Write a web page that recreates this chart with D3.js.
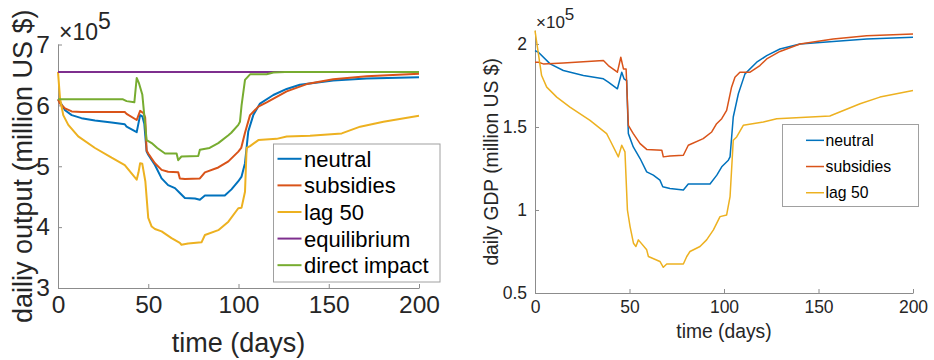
<!DOCTYPE html>
<html lang="en">
<head>
<meta charset="utf-8">
<title>Daily output and GDP</title>
<script src="https://d3js.org/d3.v7.min.js"></script>
<style>
  body { margin: 0; background: #fff; }
  svg { font-family: "Liberation Sans", Arial, Helvetica, sans-serif; }
  .axis .domain, .axis line { stroke: #8c8c8c; stroke-width: 1; }
  .axis text { fill: #262626; }
  .series { fill: none; stroke-linejoin: round; }
</style>
</head>
<body>
<svg id="chart" width="934" height="360"></svg>
<script>
// values; output in units of 1e5 million US $
const names = ["neutral", "subsidies", "lag 50", "equilibrium", "direct impact"];
const colors = ["#0072BD", "#D95319", "#EDB120", "#7E2F8E", "#77AC30"];

const outNeutral = [[0,6.10],[1.1,6.06],[3.9,5.92],[7.6,5.84],[13,5.79],[20.5,5.75],[29.7,5.72],[37,5.69],[38,5.65],[43.6,5.56],[45.5,5.84],[46.7,5.82],[47.8,5.70],[49.1,5.24],[50,5.19],[53.7,5.02],[57.4,4.80],[61,4.69],[64.8,4.64],[67.5,4.56],[70.3,4.48],[75.9,4.47],[78.6,4.45],[81.4,4.52],[92.4,4.52],[96.1,4.62],[99.8,4.75],[101.7,4.83],[103.6,5.05],[105.4,5.57],[108.2,5.84],[111.9,6.03],[119.3,6.17],[126.7,6.27],[134,6.34],[152.5,6.41],[171,6.44],[200,6.46]];
const outSubsidies = [[0,6.10],[1.1,6.03],[3.9,5.95],[7.6,5.90],[13,5.89],[37,5.89],[38,5.86],[43.6,5.76],[45.5,5.91],[47.4,5.87],[48.3,5.80],[49.1,5.26],[50,5.21],[53.7,5.05],[57.4,4.94],[61,4.91],[66.6,4.90],[67.5,4.80],[70.3,4.79],[78.6,4.80],[81.4,4.90],[88.8,4.98],[94.4,5.08],[99.9,5.24],[101.5,5.30],[103.6,5.55],[106.4,5.84],[111,5.98],[115.6,6.05],[126.7,6.23],[137.8,6.35],[152.5,6.43],[171,6.48],[200,6.52]];
const outLag = [[0,6.55],[1.1,6.12],[2.9,5.84],[5.7,5.68],[11.2,5.49],[20.5,5.30],[29.7,5.14],[37,5.02],[43.6,4.78],[44.6,4.90],[45.5,5.05],[46.7,5.04],[48.4,4.75],[50,4.15],[51.9,4.01],[53.7,3.97],[57.4,3.93],[62.9,3.82],[67.5,3.74],[68.4,3.71],[72.1,3.73],[79.5,3.75],[81.4,3.87],[88.8,3.95],[94.4,4.09],[99.9,4.31],[101.7,4.32],[103.6,4.58],[104.5,5.30],[106.4,5.33],[111,5.43],[121.1,5.45],[126.7,5.49],[139.6,5.50],[157.2,5.54],[167.4,5.65],[180.3,5.73],[200,5.83]];
const outEquilibrium = [[0,6.55],[200,6.55]];
const outDirect = [[0,6.10],[36,6.10],[38,6.07],[42.3,6.05],[43.6,6.45],[44.9,6.36],[46.7,6.18],[49.1,5.43],[51.9,5.38],[55,5.30],[59.3,5.21],[65.7,5.21],[66.6,5.10],[68.4,5.16],[77.7,5.17],[78.6,5.27],[84,5.30],[88.8,5.38],[94.4,5.51],[96,5.55],[99.9,5.68],[100.8,5.73],[101.7,6.00],[103.6,6.42],[106.4,6.51],[115.6,6.51],[119.3,6.54],[125.8,6.55],[200,6.55]];

// GDP in units of 1e5 million US $
const gdpNeutral = [[0,1.96],[1.8,1.95],[8,1.88],[15,1.84],[25.6,1.81],[36.2,1.79],[38.8,1.77],[43.6,1.73],[45.9,1.83],[47.1,1.79],[48.5,1.78],[49.4,1.46],[52,1.38],[55.6,1.31],[59.1,1.23],[62.6,1.21],[66.1,1.18],[67.6,1.14],[71.4,1.13],[78.5,1.12],[81.1,1.157],[92.6,1.157],[96.2,1.21],[98.8,1.26],[102.3,1.30],[103.2,1.32],[104.9,1.56],[107.6,1.70],[111.1,1.82],[117.3,1.89],[122.6,1.93],[129.6,1.97],[140.2,2.00],[157.8,2.015],[175.5,2.03],[200,2.04]];
const gdpSubsidies = [[0,1.89],[1.8,1.89],[4.4,1.88],[15,1.885],[36.2,1.90],[38.8,1.87],[43.6,1.83],[45.4,1.92],[46.8,1.85],[48.2,1.85],[49.4,1.51],[52,1.46],[55.6,1.40],[59.1,1.365],[67.1,1.36],[67.9,1.32],[71.4,1.325],[78.5,1.33],[81.1,1.39],[89,1.43],[93.5,1.47],[96.1,1.52],[98.8,1.55],[101.4,1.60],[104,1.74],[105.8,1.80],[108.4,1.83],[113.8,1.83],[119,1.87],[122.6,1.91],[129.6,1.955],[140.2,2.00],[157.8,2.03],[175.5,2.05],[200,2.06]];
const gdpLag = [[0,2.08],[1.8,1.94],[3.5,1.81],[6.2,1.74],[11.5,1.68],[18.5,1.62],[29.1,1.54],[37.9,1.46],[39.7,1.42],[44.1,1.32],[45.9,1.39],[47.6,1.35],[48.9,1.00],[50.3,0.90],[52.1,0.80],[53.4,0.78],[54.7,0.82],[59.1,0.76],[60,0.72],[66.1,0.69],[67.9,0.655],[69.7,0.675],[78.5,0.675],[80.3,0.72],[82,0.75],[87.3,0.78],[90.8,0.82],[94.4,0.88],[97.9,0.96],[101.4,0.97],[103.2,1.08],[104.9,1.42],[106.7,1.44],[110.2,1.51],[120.8,1.53],[127.9,1.55],[156,1.566],[172,1.64],[182.5,1.68],[200,1.72]];

const xTicks = [0, 50, 100, 150, 200];
const outTicks = [3, 4, 5, 6, 7];
const gdpTicks = [0.5, 1, 1.5, 2];

const svg = d3.select("#chart");

function panel(o) {
  const x = d3.scaleLinear().domain([0, 200]).range([o.left, o.right]);
  const y = d3.scaleLinear().domain(o.ydom).range([o.bottom, o.top]);
  const g = svg.append("g");

  g.append("g")
      .attr("class", "axis")
      .attr("transform", `translate(0,${o.bottom})`)
      .call(d3.axisBottom(x).tickValues(xTicks).tickSizeInner(-o.tick).tickSizeOuter(0).tickPadding(o.pad))
      .call(a => a.selectAll("text").style("font-size", o.fs + "px"));

  g.append("g")
      .attr("class", "axis")
      .attr("transform", `translate(${o.left},0)`)
      .call(d3.axisLeft(y).tickValues(o.yticks).tickFormat(d3.format("")).tickSizeInner(-o.tick).tickSizeOuter(0).tickPadding(o.pad))
      .call(a => a.selectAll("text").style("font-size", o.fs + "px"));
  // axis line runs up to the top of the box
  g.select(".axis:last-child .domain").attr("d", `M0.5,${o.bottom}V${o.top}`);

  const line = d3.line().x(d => x(d[0])).y(d => y(d[1]));
  g.selectAll(".series")
    .data(o.series)
    .join("path")
      .attr("class", "series")
      .attr("stroke", (d, i) => colors[i])
      .attr("stroke-width", o.lw)
      .attr("d", line);

  // exponent label
  const ex = g.append("text")
      .attr("x", o.left + 1)
      .attr("y", o.expY)
      .style("font-size", o.efs + "px")
      .attr("fill", "#262626");
  ex.append("tspan").text("\u00d710");
  ex.append("tspan").attr("dy", -o.efs * 0.45).text("5");

  g.append("text")
      .attr("x", (o.left + o.right) / 2)
      .attr("y", o.xlabY)
      .attr("text-anchor", "middle")
      .style("font-size", o.lfs + "px")
      .attr("fill", "#262626")
      .text("time (days)");

  g.append("text")
      .attr("transform", `translate(${o.ylabX},${(o.top + o.bottom) / 2}) rotate(-90)`)
      .attr("text-anchor", "middle")
      .style("font-size", o.lfs + "px")
      .attr("fill", "#262626")
      .text(o.ylabel);

  // legend
  const L = o.legend;
  g.append("rect")
      .attr("x", L.x).attr("y", L.y)
      .attr("width", L.w).attr("height", L.h)
      .attr("fill", "#fff")
      .attr("stroke", "#a0a0a0");
  const items = g.selectAll(".leg")
    .data(o.series.map((s, i) => i))
    .join("g")
      .attr("class", "leg")
      .attr("transform", i => `translate(${L.x},${L.y0 + i * L.step})`);
  items.append("line")
      .attr("x1", L.l1).attr("x2", L.l2)
      .attr("y1", -L.fs * 0.36).attr("y2", -L.fs * 0.36)
      .attr("stroke", i => colors[i])
      .attr("stroke-width", o.lw);
  items.append("text")
      .attr("x", L.tx)
      .style("font-size", L.fs + "px")
      .attr("fill", "#000")
      .text(i => names[i]);
}

panel({
  left: 58, right: 419, top: 44.5, bottom: 288,
  ydom: [3, 7], yticks: outTicks,
  series: [outNeutral, outSubsidies, outLag, outEquilibrium, outDirect],
  fs: 24.5, lfs: 27, efs: 23, tick: 4, pad: 8, lw: 2,
  expY: 39.5, xlabY: 351.5, ylabX: 32,
  ylabel: "dailiy output (million US $)",
  legend: {x: 273.5, y: 144, w: 166.5, h: 138, y0: 166.7, step: 26.6, l1: 4, l2: 28, tx: 30.5, fs: 22}
});

panel({
  left: 535, right: 913, top: 30.7, bottom: 293,
  ydom: [0.5, 2.08], yticks: gdpTicks,
  series: [gdpNeutral, gdpSubsidies, gdpLag],
  fs: 17.5, lfs: 19.3, efs: 17, tick: 4, pad: 8, lw: 1.5,
  expY: 27.5, xlabY: 338, ylabX: 498,
  ylabel: "daily GDP (million US $)",
  legend: {x: 782.5, y: 124.5, w: 136, h: 82, y0: 146, step: 26.2, l1: 23.5, l2: 41.5, tx: 43, fs: 15.75}
});
</script>
</body>
</html>
